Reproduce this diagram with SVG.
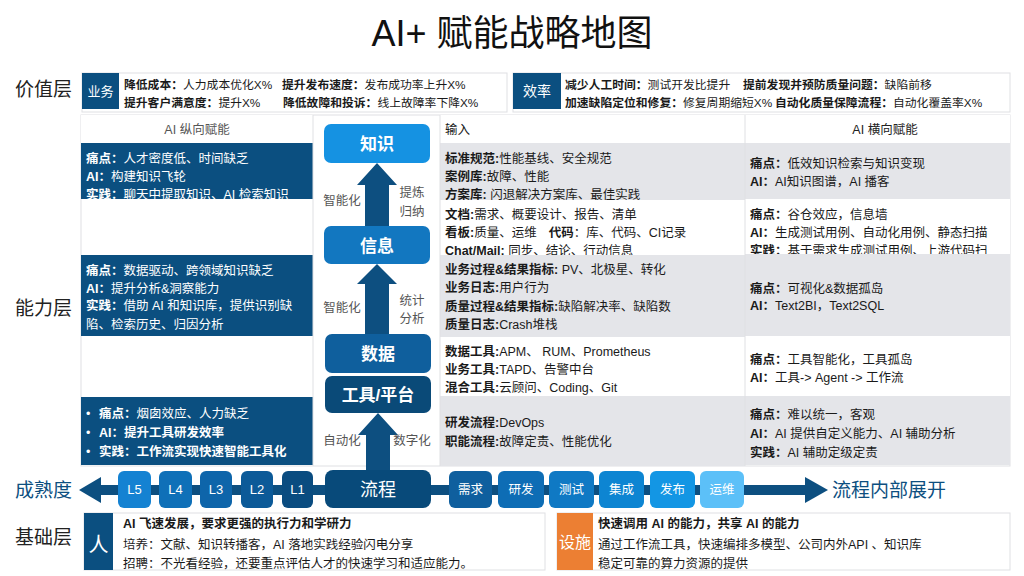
<svg xmlns="http://www.w3.org/2000/svg" width="1024" height="576" viewBox="0 0 1024 576">
<style>
text{font-family:"Liberation Sans","Noto Sans CJK SC",sans-serif;}
.t{font-size:12.5px;fill:#1a1a1a}
.tw{font-size:12.5px;fill:#fff}
.v{font-size:11.8px;fill:#1a1a1a}
.b{font-weight:bold}
.layer{font-size:19px;fill:#222}
.mid{font-size:12.5px;fill:#555;text-anchor:middle}
.bx{fill:#fff;text-anchor:middle;font-weight:bold}
.dark{fill:#0b4f80}
.gray{fill:#e4e5e9}
.white{fill:#fff}
.arr{fill:#0d4f80}
.line{stroke:#dfe0e3;stroke-width:1;fill:none}
</style>
<defs>
<clipPath id="cL1"><rect x="81" y="143" width="232" height="56"/></clipPath>
<clipPath id="cI1"><rect x="440" y="143" width="305" height="57"/></clipPath>
<clipPath id="cI2"><rect x="440" y="200" width="305" height="55"/></clipPath>
<clipPath id="cR2"><rect x="745" y="199" width="265" height="55"/></clipPath>
</defs>
<rect width="1024" height="576" fill="#fff"/>

<g id="title"><text x="512" y="46" font-size="36" text-anchor="middle" fill="#111">AI+ 赋能战略地图</text></g>

<g id="value-layer">
<text class="layer" x="15" y="96">价值层</text>
<rect x="82" y="73" width="425" height="39" class="line"/>
<rect x="82" y="73" width="37" height="36" class="dark"/>
<text x="100.5" y="95.5" font-size="13" fill="#fff" text-anchor="middle">业务</text>
<text class="v" x="124" y="89"><tspan class="b">降低成本：</tspan>人力成本优化X%</text>
<text class="v" x="282" y="89"><tspan class="b">提升发布速度：</tspan>发布成功率上升X%</text>
<text class="v" x="124" y="106.5"><tspan class="b">提升客户满意度：</tspan>提升X%</text>
<text class="v" x="283" y="106.5"><tspan class="b">降低故障和投诉：</tspan>线上故障率下降X%</text>
<rect x="513" y="73" width="497" height="39" class="line"/>
<rect x="513" y="73" width="48" height="36" class="dark"/>
<text x="537" y="95.5" font-size="14" fill="#fff" text-anchor="middle">效率</text>
<text class="v" x="565" y="89"><tspan class="b">减少人工时间：</tspan>测试开发比提升</text>
<text class="v" x="743" y="89"><tspan class="b">提前发现并预防质量问题：</tspan>缺陷前移</text>
<text class="v" x="565" y="106.5"><tspan class="b">加速缺陷定位和修复：</tspan>修复周期缩短X%</text>
<text class="v" x="775" y="106.5"><tspan class="b">自动化质量保障流程：</tspan>自动化覆盖率X%</text>
</g>

<g id="capability-layer">
<text class="layer" x="15" y="315">能力层</text>
<rect x="81" y="115" width="929" height="351" class="line"/>
</g>

<g id="vertical-column">
<rect x="81" y="115" width="232" height="28" class="white"/>
<text class="mid" x="197" y="133.5">AI 纵向赋能</text>
<rect x="81" y="143" width="232" height="56" class="dark"/>
<g clip-path="url(#cL1)">
<text class="tw" x="86" y="162.5"><tspan class="b">痛点：</tspan>人才密度低、时间缺乏</text>
<text class="tw" x="86" y="180.5"><tspan class="b">AI：</tspan>构建知识飞轮</text>
<text class="tw" x="86" y="198.5"><tspan class="b">实践：</tspan>聊天中提取知识、AI 检索知识</text>
</g>
<rect x="81" y="255" width="232" height="81" class="dark"/>
<text class="tw" x="86" y="274.5"><tspan class="b">痛点：</tspan>数据驱动、跨领域知识缺乏</text>
<text class="tw" x="86" y="292.5"><tspan class="b">AI：</tspan>提升分析&amp;洞察能力</text>
<text class="tw" x="86" y="310"><tspan class="b">实践：</tspan>借助 AI 和知识库，提供识别缺</text>
<text class="tw" x="86" y="328.5">陷、检索历史、归因分析</text>
<rect x="81" y="397" width="232" height="68" class="dark"/>
<text class="tw" x="86" y="417.5">•</text>
<text class="tw" x="99" y="417.5"><tspan class="b">痛点：</tspan>烟囱效应、人力缺乏</text>
<text class="tw" x="86" y="436.5">•</text>
<text class="tw b" x="99" y="436.5">AI：提升工具研发效率</text>
<text class="tw" x="86" y="455.5">•</text>
<text class="tw b" x="99" y="455.5">实践：工作流实现快速智能工具化</text>
</g>

<g id="input-column">
<rect x="440" y="115" width="305" height="28" class="white"/>
<text class="t" x="445" y="133.5">输入</text>
<rect x="440" y="143" width="305" height="57" class="gray"/>
<g clip-path="url(#cI1)">
<text class="t" x="445" y="162.5"><tspan class="b">标准规范:</tspan>性能基线、安全规范</text>
<text class="t" x="445" y="180.5"><tspan class="b">案例库:</tspan>故障、性能</text>
<text class="t" x="445" y="198.5"><tspan class="b">方案库:</tspan> 闪退解决方案库、最佳实践</text>
</g>
<rect x="440" y="200" width="305" height="55" class="white"/>
<g clip-path="url(#cI2)">
<text class="t" x="445" y="218.5"><tspan class="b">文档:</tspan>需求、概要设计、报告、清单</text>
<text class="t" x="445" y="236.5"><tspan class="b">看板:</tspan>质量、运维<tspan class="b" dx="12">代码</tspan>：库、代码、CI记录</text>
<text class="t" x="445" y="254.5"><tspan class="b">Chat/Mail:</tspan> 同步、结论、行动信息</text>
</g>
<rect x="440" y="255" width="305" height="82" class="gray"/>
<text class="t" x="445" y="273.5"><tspan class="b">业务过程&amp;结果指标:</tspan> PV、北极星、转化</text>
<text class="t" x="445" y="291.5"><tspan class="b">业务日志:</tspan>用户行为</text>
<text class="t" x="445" y="310.5"><tspan class="b">质量过程&amp;结果指标:</tspan>缺陷解决率、缺陷数</text>
<text class="t" x="445" y="328.5"><tspan class="b">质量日志:</tspan>Crash堆栈</text>
<rect x="440" y="337" width="305" height="59" class="white"/>
<text class="t" x="445" y="355.5"><tspan class="b">数据工具:</tspan>APM、 RUM、Prometheus</text>
<text class="t" x="445" y="373.5"><tspan class="b">业务工具:</tspan>TAPD、告警中台</text>
<text class="t" x="445" y="391.5"><tspan class="b">混合工具:</tspan>云顾问、Coding、Git</text>
<rect x="440" y="396" width="305" height="70" class="gray"/>
<text class="t" x="445" y="426.5"><tspan class="b">研发流程:</tspan>DevOps</text>
<text class="t" x="445" y="445.5"><tspan class="b">职能流程:</tspan>故障定责、性能优化</text>
</g>

<g id="horizontal-column">
<rect x="745" y="115" width="265" height="28" class="white"/>
<text class="mid" x="885" y="133.5" style="fill:#222">AI 横向赋能</text>
<rect x="745" y="143" width="265" height="56" class="gray"/>
<text class="t" x="750" y="167.5"><tspan class="b">痛点：</tspan>低效知识检索与知识变现</text>
<text class="t" x="750" y="185.5"><tspan class="b">AI：</tspan>AI知识图谱，AI 播客</text>
<rect x="745" y="199" width="265" height="55" class="white"/>
<g clip-path="url(#cR2)">
<text class="t" x="750" y="218.5"><tspan class="b">痛点：</tspan>谷仓效应，信息墙</text>
<text class="t" x="750" y="236.5"><tspan class="b">AI：</tspan>生成测试用例、自动化用例、静态扫描</text>
<text class="t" x="750" y="255"><tspan class="b">实践：</tspan>基于需求生成测试用例、上游代码扫</text>
</g>
<rect x="745" y="254" width="265" height="82" class="gray"/>
<text class="t" x="750" y="292.5"><tspan class="b">痛点：</tspan>可视化&amp;数据孤岛</text>
<text class="t" x="750" y="309.5"><tspan class="b">AI：</tspan>Text2BI，Text2SQL</text>
<rect x="745" y="336" width="265" height="60" class="white"/>
<text class="t" x="750" y="363.5"><tspan class="b">痛点：</tspan>工具智能化，工具孤岛</text>
<text class="t" x="750" y="381.5"><tspan class="b">AI：</tspan>工具-&gt; Agent -&gt; 工作流</text>
<rect x="745" y="396" width="265" height="69" class="gray"/>
<text class="t" x="750" y="418.5"><tspan class="b">痛点：</tspan>难以统一，客观</text>
<text class="t" x="750" y="437.5"><tspan class="b">AI：</tspan>AI 提供自定义能力、AI 辅助分析</text>
<text class="t" x="750" y="456.5"><tspan class="b">实践：</tspan>AI 辅助定级定责</text>
</g>

<g id="grid-lines">
<line x1="313" y1="115" x2="313" y2="466" class="line"/>
<line x1="440" y1="115" x2="440" y2="466" class="line"/>
<line x1="745" y1="115" x2="745" y2="466" class="line"/>
</g>

<g id="connectors">
<polygon class="arr" points="365,226 365,185 357,185 377,163 397,185 389,185 389,226"/>
<polygon class="arr" points="365,334 365,284 357,284 377,264 397,284 389,284 389,334"/>
<polygon class="arr" points="366,472 366,435 358,435 378,413 398,435 390,435 390,472"/>
<text class="mid" x="342" y="204.5">智能化</text>
<text class="mid" x="412" y="196.5">提炼</text>
<text class="mid" x="412" y="216">归纳</text>
<text class="mid" x="342" y="311.5">智能化</text>
<text class="mid" x="412" y="304.5">统计</text>
<text class="mid" x="412" y="323">分析</text>
<text class="mid" x="342" y="444.5">自动化</text>
<text class="mid" x="412" y="444.5">数字化</text>
</g>

<g id="node-knowledge"><rect x="324" y="124" width="106" height="39" rx="7" fill="#1592e2"/><text class="bx" x="377" y="150" font-size="17">知识</text></g>
<g id="node-info"><rect x="324" y="226" width="106" height="38" rx="7" fill="#1277c0"/><text class="bx" x="377" y="251.5" font-size="17">信息</text></g>
<g id="node-data"><rect x="325" y="334" width="106" height="39" rx="7" fill="#0f5f9d"/><text class="bx" x="378" y="359.5" font-size="17">数据</text></g>
<g id="node-tools"><rect x="325" y="376" width="106" height="37" rx="7" fill="#0a4a78"/><text class="bx" x="378" y="400.5" font-size="17">工具/平台</text></g>

<g id="maturity-bar">
<rect x="100" y="485" width="706" height="10" class="arr"/>
<polygon class="arr" points="79,490 101,477 101,503"/>
<polygon class="arr" points="805,477 828,490 805,503"/>
<text x="15" y="497" font-size="19" fill="#0d4f80">成熟度</text>
<text x="832" y="497" font-size="19" fill="#0d4f80">流程内部展开</text>
</g>

<g id="node-L5"><rect x="118" y="471" width="33" height="37" rx="6" fill="#1482d2"/><text x="134.5" y="494" font-size="13" fill="#fff" text-anchor="middle">L5</text></g>
<g id="node-L4"><rect x="159" y="471" width="33" height="37" rx="6" fill="#0f70b8"/><text x="175.5" y="494" font-size="13" fill="#fff" text-anchor="middle">L4</text></g>
<g id="node-L3"><rect x="200" y="471" width="32" height="37" rx="6" fill="#0e65aa"/><text x="216" y="494" font-size="13" fill="#fff" text-anchor="middle">L3</text></g>
<g id="node-L2"><rect x="241" y="471" width="32" height="37" rx="6" fill="#0c5a98"/><text x="257" y="494" font-size="13" fill="#fff" text-anchor="middle">L2</text></g>
<g id="node-L1"><rect x="282" y="471" width="31" height="37" rx="6" fill="#0a4c80"/><text x="297.5" y="494" font-size="13" fill="#fff" text-anchor="middle">L1</text></g>
<g id="node-process"><rect x="325" y="470" width="106" height="38" rx="8" fill="#084a7a"/><text x="378" y="495.5" font-size="18" fill="#fff" text-anchor="middle">流程</text></g>
<g id="node-req"><rect x="449" y="471" width="43" height="37" rx="6" fill="#0f5f9e"/><text x="470.5" y="494" font-size="12.5" fill="#fff" text-anchor="middle">需求</text></g>
<g id="node-dev"><rect x="498" y="471" width="46" height="37" rx="6" fill="#0e6db5"/><text x="521" y="494" font-size="12.5" fill="#fff" text-anchor="middle">研发</text></g>
<g id="node-test"><rect x="549" y="471" width="45" height="37" rx="6" fill="#0f79c4"/><text x="571.5" y="494" font-size="12.5" fill="#fff" text-anchor="middle">测试</text></g>
<g id="node-integ"><rect x="599" y="471" width="45" height="37" rx="6" fill="#0d85d2"/><text x="621.5" y="494" font-size="12.5" fill="#fff" text-anchor="middle">集成</text></g>
<g id="node-release"><rect x="650" y="471" width="45" height="37" rx="6" fill="#1396e4"/><text x="672.5" y="494" font-size="12.5" fill="#fff" text-anchor="middle">发布</text></g>
<g id="node-ops"><rect x="700" y="471" width="44" height="37" rx="6" fill="#5cc0f8"/><text x="722" y="494" font-size="12.5" fill="#fff" text-anchor="middle">运维</text></g>

<g id="base-layer">
<text class="layer" x="15" y="544">基础层</text>
<rect x="84" y="513" width="461" height="57" class="line"/>
<rect x="84" y="513" width="29" height="57" class="dark"/>
<text x="98.5" y="552" font-size="20" fill="#fff" text-anchor="middle">人</text>
<text class="t b" x="123" y="528">AI 飞速发展，要求更强的执行力和学研力</text>
<text class="t" x="123" y="549">培养：文献、知识转播客，AI 落地实践经验闪电分享</text>
<text class="t" x="123" y="567.5">招聘：不光看经验，还要重点评估人才的快速学习和适应能力。</text>
<rect x="557" y="513" width="453" height="57" class="line"/>
<rect x="557" y="513" width="36" height="57" fill="#ec7f33"/>
<text x="575" y="548" font-size="16" fill="#fff" text-anchor="middle">设施</text>
<text class="t b" x="598" y="528">快速调用 AI 的能力，共享 AI 的能力</text>
<text class="t" x="598" y="549">通过工作流工具，快速编排多模型、公司内外API 、知识库</text>
<text class="t" x="598" y="567.5">稳定可靠的算力资源的提供</text>
</g>
</svg>
